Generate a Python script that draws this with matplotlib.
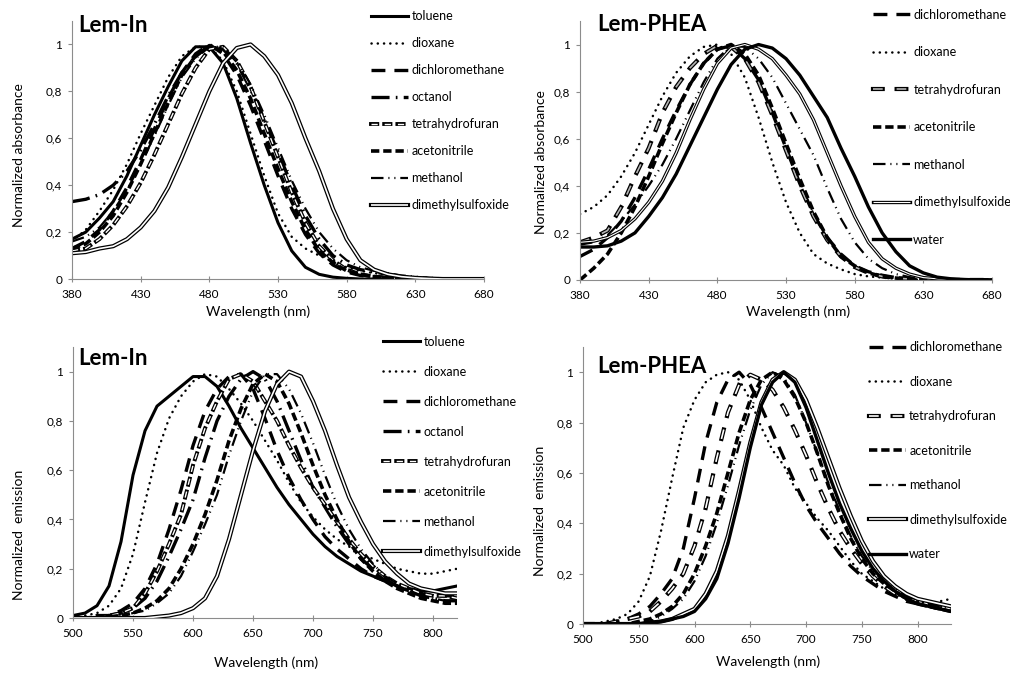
import numpy as np
import matplotlib
matplotlib.use('Agg')
import matplotlib.pyplot as plt
from matplotlib import patheffects as pe
from matplotlib.ticker import FuncFormatter

plt.rcParams['font.family'] = ['Lato', 'DejaVu Sans']
plt.rcParams['lines.scale_dashes'] = False

# ---- absorbance, Lem-In (380-680 nm, 10 nm step)
wl_abs = list(range(380, 690, 10))
abs_in = {
    'toluene':           [0.17,0.20,0.26,0.33,0.44,0.57,0.70,0.82,0.93,0.99, 0.99,0.92,0.77,0.58,0.40,0.24,0.12,0.05,0.02,0.008, 0.003,0,0,0,0,0,0,0,0,0,0],
    'dioxane':           [0.16,0.21,0.29,0.38,0.49,0.62,0.74,0.86,0.95,0.99, 0.99,0.93,0.80,0.62,0.44,0.28,0.18,0.13,0.10,0.075, 0.05,0.035,0.025,0.018,0.012,0.008,0.005,0.003,0.002,0.001,0],
    'dichloromethane':   [0.13,0.16,0.21,0.29,0.39,0.51,0.64,0.77,0.88,0.96, 1.0,0.96,0.87,0.74,0.59,0.44,0.30,0.19,0.11,0.06, 0.03,0.015,0.01,0.005,0.003,0.001,0,0,0,0,0],
    'octanol':           [0.33,0.34,0.36,0.40,0.46,0.55,0.66,0.78,0.88,0.95, 0.995,0.98,0.92,0.81,0.68,0.54,0.40,0.27,0.17,0.10, 0.06,0.04,0.03,0.02,0.01,0.005,0.002,0,0,0,0],
    'tetrahydrofuran':   [0.12,0.13,0.17,0.23,0.31,0.41,0.53,0.66,0.79,0.90, 0.98,0.99,0.93,0.82,0.67,0.52,0.37,0.24,0.14,0.08, 0.04,0.02,0.01,0.005,0.002,0,0,0,0,0,0],
    'acetonitrile':      [0.13,0.15,0.20,0.27,0.37,0.49,0.62,0.75,0.87,0.95, 0.995,0.97,0.89,0.77,0.62,0.47,0.33,0.21,0.12,0.07, 0.035,0.02,0.01,0.005,0.002,0,0,0,0,0,0],
    'methanol':          [0.16,0.18,0.22,0.29,0.38,0.49,0.61,0.74,0.86,0.94, 0.99,0.99,0.93,0.83,0.70,0.56,0.42,0.30,0.20,0.13, 0.08,0.05,0.035,0.025,0.015,0.01,0.005,0.002,0,0,0],
    'dimethylsulfoxide': [0.11,0.115,0.13,0.14,0.17,0.22,0.29,0.39,0.52,0.66, 0.80,0.92,0.985,1.0,0.95,0.87,0.75,0.60,0.46,0.30, 0.17,0.08,0.04,0.02,0.01,0.005,0.002,0,0,0,0],
}

# ---- absorbance, Lem-PHEA
abs_ph = {
    'dichloromethane':   [0.10,0.13,0.18,0.25,0.35,0.47,0.60,0.72,0.83,0.92, 0.98,0.995,0.94,0.85,0.71,0.56,0.41,0.28,0.18,0.11, 0.06,0.035,0.02,0.01,0.005,0,0,0,0,0,0],
    'dioxane':           [0.28,0.31,0.36,0.44,0.54,0.66,0.78,0.88,0.95,0.99, 1.0,0.96,0.86,0.69,0.50,0.33,0.20,0.11,0.07,0.045, 0.025,0.015,0.01,0.005,0.003,0.001,0,0,0,0,0],
    'tetrahydrofuran':   [0.16,0.18,0.21,0.31,0.44,0.56,0.71,0.82,0.90,0.96, 0.995,0.99,0.94,0.84,0.70,0.55,0.40,0.27,0.17,0.10, 0.055,0.03,0.015,0.008,0.004,0,0,0,0,0,0],
    'acetonitrile':      [0.0,0.05,0.11,0.20,0.31,0.44,0.58,0.71,0.83,0.92, 0.98,1.0,0.96,0.87,0.73,0.58,0.43,0.29,0.18,0.10, 0.06,0.03,0.015,0.008,0.004,0,0,0,0,0,0],
    'methanol':          [0.15,0.16,0.19,0.25,0.32,0.40,0.49,0.60,0.72,0.84, 0.94,0.995,0.99,0.94,0.86,0.75,0.64,0.53,0.39,0.26, 0.16,0.09,0.05,0.025,0.012,0.005,0.002,0,0,0,0],
    'dimethylsulfoxide': [0.16,0.165,0.18,0.21,0.26,0.33,0.42,0.54,0.68,0.81, 0.92,0.985,1.0,0.98,0.94,0.87,0.79,0.68,0.54,0.40, 0.27,0.16,0.09,0.05,0.025,0.01,0.005,0.002,0,0,0],
    'water':             [0.14,0.14,0.145,0.165,0.20,0.27,0.35,0.45,0.57,0.69, 0.81,0.915,0.98,1.0,0.985,0.94,0.87,0.78,0.69,0.56, 0.44,0.31,0.20,0.12,0.06,0.03,0.012,0.005,0.002,0,0],
}

# ---- emission, Lem-In (500-820 nm)
wl_em_in = list(range(500, 830, 10))
em_in = {
    'toluene':           [0.01,0.02,0.05,0.13,0.31,0.58,0.76,0.86,0.90,0.94, 0.98,0.98,0.94,0.86,0.77,0.69,0.61,0.53,0.46,0.40, 0.34,0.29,0.25,0.22,0.19,0.17,0.15,0.13,0.12,0.11, 0.11,0.12,0.13],
    'dioxane':           [0.0,0.01,0.02,0.05,0.12,0.26,0.47,0.67,0.81,0.90, 0.96,0.99,0.98,0.93,0.87,0.80,0.72,0.64,0.55,0.47, 0.41,0.36,0.32,0.29,0.26,0.24,0.22,0.20,0.19,0.18, 0.18,0.19,0.20],
    'dichloromethane':   [0.0,0.0,0.01,0.01,0.03,0.06,0.12,0.22,0.36,0.52, 0.70,0.84,0.93,0.98,0.99,0.93,0.81,0.68,0.57,0.48, 0.40,0.33,0.28,0.24,0.20,0.17,0.15,0.13,0.11,0.10, 0.09,0.09,0.09],
    'octanol':           [0.0,0.0,0.005,0.01,0.02,0.04,0.08,0.15,0.25,0.36, 0.48,0.65,0.80,0.90,0.97,1.0,0.97,0.88,0.76,0.64, 0.53,0.45,0.37,0.30,0.24,0.20,0.16,0.13,0.11,0.09, 0.08,0.07,0.07],
    'tetrahydrofuran':   [0.0,0.0,0.0,0.01,0.02,0.04,0.10,0.19,0.30,0.42, 0.62,0.77,0.88,0.97,0.99,0.96,0.88,0.80,0.70,0.61, 0.53,0.46,0.39,0.32,0.26,0.21,0.17,0.14,0.12,0.10, 0.09,0.09,0.08],
    'acetonitrile':      [0.0,0.0,0.0,0.005,0.01,0.02,0.04,0.07,0.12,0.20, 0.30,0.42,0.56,0.72,0.85,0.95,0.99,0.96,0.87,0.75, 0.62,0.50,0.40,0.31,0.24,0.19,0.15,0.12,0.10,0.08, 0.07,0.06,0.06],
    'methanol':          [0.0,0.0,0.0,0.0,0.01,0.02,0.03,0.06,0.10,0.17, 0.27,0.38,0.50,0.66,0.80,0.92,0.99,0.99,0.93,0.83, 0.71,0.58,0.46,0.36,0.28,0.22,0.17,0.14,0.11,0.09, 0.08,0.07,0.06],
    'dimethylsulfoxide': [0.0,0.0,0.0,0.0,0.0,0.0,0.0,0.005,0.01,0.02, 0.04,0.08,0.17,0.32,0.50,0.68,0.84,0.95,1.0,0.98, 0.88,0.76,0.62,0.49,0.39,0.30,0.23,0.18,0.14,0.12, 0.11,0.10,0.10],
}

# ---- emission, Lem-PHEA (500-830 nm)
wl_em_ph = list(range(500, 840, 10))
em_ph = {
    'dichloromethane':   [0.0,0.0,0.0,0.01,0.02,0.04,0.07,0.12,0.18,0.30, 0.50,0.72,0.88,0.97,1.0,0.95,0.86,0.76,0.66,0.56, 0.47,0.40,0.34,0.28,0.23,0.19,0.16,0.13,0.11,0.09, 0.08,0.07,0.06,0.06],
    'dioxane':           [0.0,0.0,0.01,0.02,0.04,0.09,0.19,0.37,0.58,0.78, 0.89,0.96,0.99,1.0,0.97,0.89,0.78,0.69,0.63,0.54, 0.48,0.42,0.37,0.31,0.25,0.20,0.17,0.14,0.12,0.10, 0.09,0.08,0.09,0.10],
    'tetrahydrofuran':   [0.0,0.0,0.0,0.01,0.02,0.03,0.05,0.09,0.14,0.20, 0.31,0.46,0.66,0.84,0.95,0.99,0.97,0.93,0.86,0.77, 0.67,0.56,0.46,0.37,0.30,0.24,0.19,0.15,0.12,0.10, 0.09,0.08,0.07,0.06],
    'acetonitrile':      [0.0,0.0,0.0,0.0,0.0,0.01,0.02,0.04,0.07,0.12, 0.20,0.31,0.44,0.60,0.76,0.89,0.97,1.0,0.97,0.90, 0.80,0.68,0.55,0.44,0.34,0.26,0.20,0.16,0.13,0.10, 0.08,0.07,0.06,0.05],
    'methanol':          [0.0,0.0,0.0,0.0,0.0,0.0,0.01,0.03,0.06,0.10, 0.17,0.27,0.40,0.55,0.71,0.85,0.95,1.0,0.98,0.91, 0.80,0.68,0.56,0.45,0.35,0.27,0.21,0.17,0.14,0.11, 0.09,0.08,0.07,0.06],
    'dimethylsulfoxide': [0.0,0.0,0.0,0.0,0.0,0.0,0.005,0.01,0.02,0.04, 0.06,0.12,0.21,0.35,0.53,0.72,0.88,0.97,1.0,0.97, 0.89,0.78,0.66,0.54,0.43,0.33,0.25,0.19,0.15,0.12, 0.10,0.09,0.08,0.07],
    'water':             [0.0,0.0,0.0,0.0,0.0,0.0,0.005,0.01,0.02,0.03, 0.05,0.10,0.18,0.32,0.50,0.70,0.87,0.96,1.0,0.96, 0.86,0.73,0.60,0.48,0.38,0.29,0.22,0.17,0.13,0.10, 0.08,0.07,0.06,0.05],
}


def hollow(inner, outer, fill='white', dashes=None):
    # white (or grey) core drawn over a wider black stroke
    kw = dict(color=fill, lw=inner, solid_capstyle='butt', dash_capstyle='butt',
              path_effects=[pe.Stroke(linewidth=outer, foreground='black', capstyle='projecting'),
                            pe.Normal()])
    if dashes is not None:
        kw['linestyle'] = (0, dashes)
    return kw


style_in = {
    'toluene':           dict(color='k', lw=2.2),
    'dioxane':           dict(color='k', lw=1.8, linestyle=(0, (0.1, 4.4)), dash_capstyle='round'),
    'dichloromethane':   dict(color='k', lw=2.4, linestyle=(0, (10, 6.5))),
    'octanol':           dict(color='k', lw=2.4, linestyle=(0, (13, 4.5, 1.2, 4.5))),
    'tetrahydrofuran':   hollow(1.0, 2.8, dashes=(4.5, 5)),
    'acetonitrile':      dict(color='k', lw=2.6, linestyle=(0, (6, 2.8))),
    'methanol':          dict(color='k', lw=1.6, linestyle=(0, (9, 3.5, 0.8, 3.5, 0.8, 3.5))),
    'dimethylsulfoxide': hollow(1.2, 3.0),
}
style_ph = dict(style_in)
style_ph['tetrahydrofuran'] = hollow(1.2, 3.0, fill='#b4b4b4', dashes=(7, 10))
style_ph['dimethylsulfoxide'] = hollow(0.8, 2.4)
style_ph['water'] = dict(color='k', lw=2.4)
style_ph_em = dict(style_ph)
style_ph_em['tetrahydrofuran'] = hollow(1.2, 3.0, dashes=(7, 10))
style_ph_em['dimethylsulfoxide'] = hollow(1.2, 3.0)


def comma(v, pos):
    if abs(v - round(v)) < 1e-9:
        return '%d' % round(v)
    return ('%.1f' % v).replace('.', ',')


def panel(ax, wl, data, styles, title, ylabel, xlim, xticks, leg_xy, spacing,
          ylab_xy, xlab_xy, title_xy):
    for name, vals in data.items():
        ax.plot(wl, vals, label=name, **styles[name])
    ax.set_xlim(*xlim)
    ax.set_ylim(0, 1.1)
    ax.set_xticks(xticks)
    ax.set_yticks([0, 0.2, 0.4, 0.6, 0.8, 1.0])
    ax.yaxis.set_major_formatter(FuncFormatter(comma))
    for s in ['top', 'right']:
        ax.spines[s].set_visible(False)
    for s in ['left', 'bottom']:
        ax.spines[s].set_color('#8c8c8c')
    ax.tick_params(color='#8c8c8c', labelsize=8.5)
    ax.tick_params(axis='x', direction='inout', length=5, pad=5)
    ax.tick_params(axis='y', direction='out', length=3, pad=4)
    ax.set_ylabel(ylabel, fontsize=10)
    ax.yaxis.set_label_coords(*ylab_xy)
    ax.set_xlabel('Wavelength (nm)', fontsize=10)
    ax.xaxis.set_label_coords(*xlab_xy)
    ax.text(title_xy[0], title_xy[1], title, transform=ax.transAxes, fontsize=16,
            fontweight='bold', va='center', ha='left')
    ax.legend(loc='upper left', bbox_to_anchor=leg_xy, bbox_transform=fig.transFigure,
              frameon=False, borderpad=0, borderaxespad=0, fontsize=9,
              handlelength=3.0, handletextpad=0.25, labelspacing=spacing)


fig = plt.figure(figsize=(10.1, 6.73), dpi=100)
ax1 = fig.add_axes([0.0713, 0.5854, 0.4079, 0.3834])
ax2 = fig.add_axes([0.5743, 0.5840, 0.4079, 0.3848])
ax3 = fig.add_axes([0.0723, 0.0817, 0.3802, 0.4027])
ax4 = fig.add_axes([0.5772, 0.0728, 0.3644, 0.4116])

panel(ax1, wl_abs, abs_in, style_in, 'Lem-In', 'Normalized absorbance',
      (380, 680), range(380, 681, 50), (0.367, 0.985), 1.2,
      (-0.114, 0.48), (0.451, -0.101), (0.015, 0.984))
panel(ax2, wl_abs, abs_ph, style_ph, 'Lem-PHEA', 'Normalized absorbance',
      (380, 680), range(380, 681, 50), (0.864, 0.987), 2.04,
      (-0.080, 0.456), (0.53, -0.097), (0.041, 0.985))
panel(ax3, wl_em_in, em_in, style_in, 'Lem-In', 'Normalized  emission',
      (500, 820), range(500, 801, 50), (0.379, 0.501), 1.44,
      (-0.125, 0.306), (0.503, -0.140), (0.013, 0.956))
panel(ax4, wl_em_ph, em_ph, style_ph_em, 'Lem-PHEA', 'Normalized  emission',
      (500, 830), range(500, 801, 50), (0.860, 0.493), 1.8,
      (-0.10, 0.408), (0.503, -0.112), (0.038, 0.931))

fig.savefig('out.png', dpi=100)
